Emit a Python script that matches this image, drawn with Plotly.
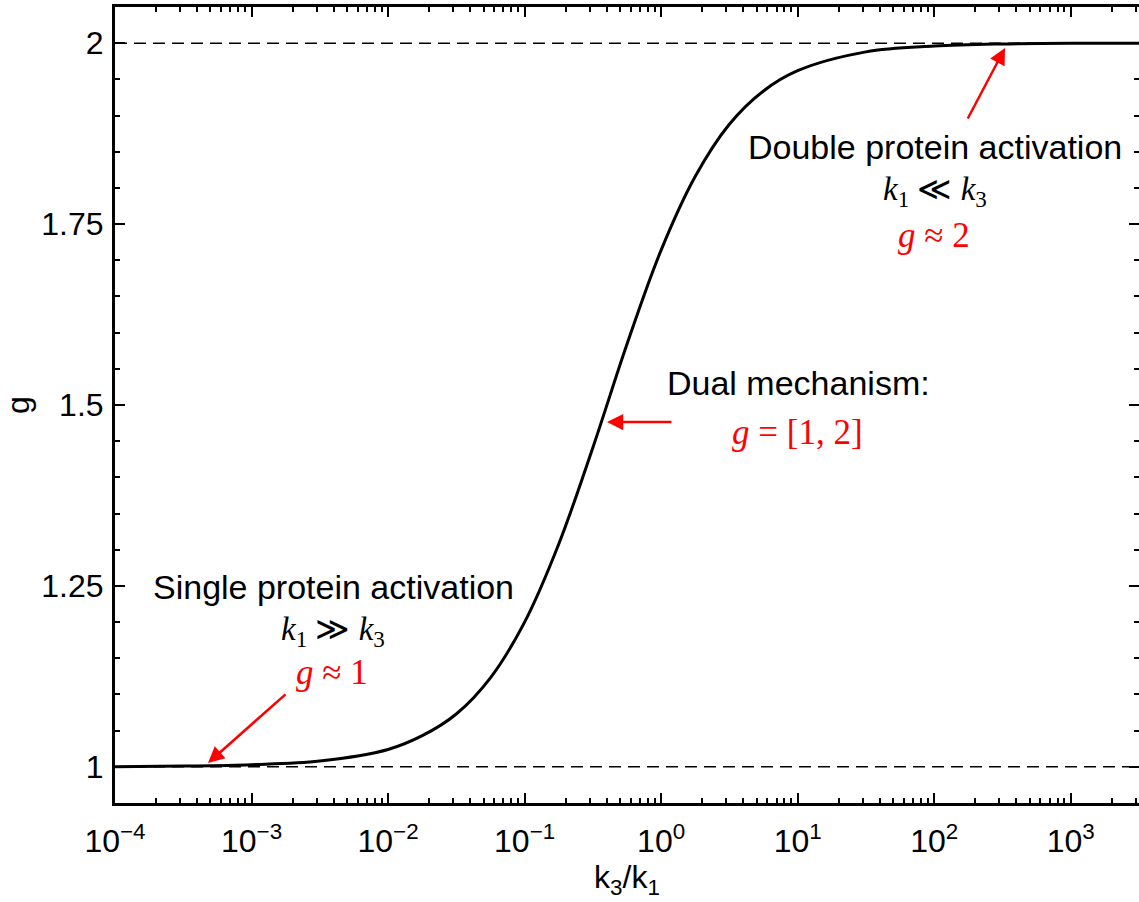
import plotly.graph_objects as go

# ---- data ----
ratio_k3_k1 = [1e-4, 3.16e-4, 1e-3, 3.16e-3, 1e-2, 1.78e-2, 3.16e-2, 5.62e-2,
               0.1, 0.178, 0.316, 0.562, 1.0, 1.78, 3.16, 5.62, 10.0, 31.6,
               100.0, 316.0, 1000.0, 3162.0]
g_values = [1.000, 1.001, 1.003, 1.008, 1.024, 1.043, 1.073, 1.123,
            1.200, 1.308, 1.441, 1.584, 1.714, 1.816, 1.888, 1.934, 1.962, 1.988,
            1.996, 1.999, 2.000, 2.000]
limit_levels = [1, 2]

x_tick_vals = [1e-4, 1e-3, 1e-2, 1e-1, 1e0, 1e1, 1e2, 1e3]
x_tick_text = ["10<sup>\u22124</sup>", "10<sup>\u22123</sup>", "10<sup>\u22122</sup>",
               "10<sup>\u22121</sup>", "10<sup>0</sup>", "10<sup>1</sup>",
               "10<sup>2</sup>", "10<sup>3</sup>"]
y_tick_vals = [1, 1.25, 1.5, 1.75, 2]
y_tick_text = ["1", "1.25", "1.5", "1.75", "2"]

# ---- layout geometry ----
W, H = 1139, 902
L, R, T, B = 115, 0, 7, 99
XR = [-4, 3.5]
YR = [0.95, 2.05]
pw = W - L - R
ph = H - T - B


def px2x(px):
    return XR[0] + (px - L) / pw * (XR[1] - XR[0])


def py2y(py):
    return YR[1] - (py - T) / ph * (YR[1] - YR[0])


fig = go.Figure()

for lvl in limit_levels:
    fig.add_trace(go.Scatter(x=[10 ** XR[0], 10 ** XR[1]], y=[lvl, lvl], mode="lines",
                             line=dict(color="black", width=1.5, dash="12px,7px"),
                             showlegend=False, hoverinfo="skip"))

fig.add_trace(go.Scatter(x=ratio_k3_k1, y=g_values, mode="lines",
                         line=dict(color="black", width=3, shape="spline", smoothing=1.0),
                         showlegend=False))

minor_x = [m * 10 ** e for e in range(-4, 4) for m in range(2, 10)]
minor_y = [round(0.95 + 0.05 * i, 2) for i in range(0, 23)]

fig.update_xaxes(type="log", range=XR, showline=True, linewidth=3, linecolor="black",
                 mirror="ticks", ticks="inside", ticklen=10, tickwidth=2, tickcolor="black",
                 tickvals=x_tick_vals, ticktext=x_tick_text, showgrid=False, zeroline=False,
                 tickfont=dict(size=32, color="black"), ticklabelstandoff=8,
                 minor=dict(tickvals=minor_x, ticks="inside", ticklen=5, tickwidth=2,
                            tickcolor="black", showgrid=False),
                 title=dict(text="k<sub>3</sub>/k<sub>1</sub>", font=dict(size=32, color="black"),
                            standoff=2))
fig.update_yaxes(range=YR, showline=True, linewidth=3, linecolor="black",
                 mirror="ticks", ticks="inside", ticklen=10, tickwidth=2, tickcolor="black",
                 tickvals=y_tick_vals, ticktext=y_tick_text, showgrid=False, zeroline=False,
                 tickfont=dict(size=32, color="black"), ticklabelstandoff=2,
                 minor=dict(tickvals=minor_y, ticks="inside", ticklen=5, tickwidth=2,
                            tickcolor="black", showgrid=False),
                 title=dict(text="g", font=dict(size=32, color="black"), standoff=16))

sans = "Liberation Sans, Arial, sans-serif"
serif = "Liberation Serif, DejaVu Serif, serif"
red = "#ff0000"

texts = [
    ("Single protein activation", 333, 587, sans, 34, "black"),
    ("<i>k</i><sub>1</sub> \u226b <i>k</i><sub>3</sub>", 333, 631, serif, 33, "black"),
    ("<i>g</i> \u2248 1", 332, 672, serif, 35, red),
    ("Double protein activation", 935, 147, sans, 34, "black"),
    ("<i>k</i><sub>1</sub> \u226a <i>k</i><sub>3</sub>", 935, 191, serif, 33, "black"),
    ("<i>g</i> \u2248 2", 934, 235, serif, 35, red),
    ("Dual mechanism:", 798, 383, sans, 34, "black"),
    ("<i>g</i> = [1, 2]", 797, 432, serif, 35, red),
]
for txt, px, py, fam, sz, col in texts:
    fig.add_annotation(x=px2x(px), y=py2y(py), xref="x", yref="y", text=txt,
                       showarrow=False, xanchor="center", yanchor="middle",
                       font=dict(family=fam, size=sz, color=col))

arrows = [
    ((208, 763), (287, 693)),
    ((1005, 48), (967, 120)),
    ((607, 422), (673, 422)),
]
for (hx, hy), (tx, ty) in arrows:
    fig.add_annotation(x=px2x(hx), y=py2y(hy), xref="x", yref="y", text="",
                       showarrow=True, arrowhead=2, arrowsize=1.3, arrowwidth=2.5,
                       arrowcolor=red, ax=tx - hx, ay=ty - hy, standoff=0)

fig.update_layout(width=W, height=H, margin=dict(l=L, r=R, t=T, b=B, autoexpand=False),
                  plot_bgcolor="white", paper_bgcolor="white",
                  font=dict(family=sans, color="black"), showlegend=False)

fig.write_html("out.html")
